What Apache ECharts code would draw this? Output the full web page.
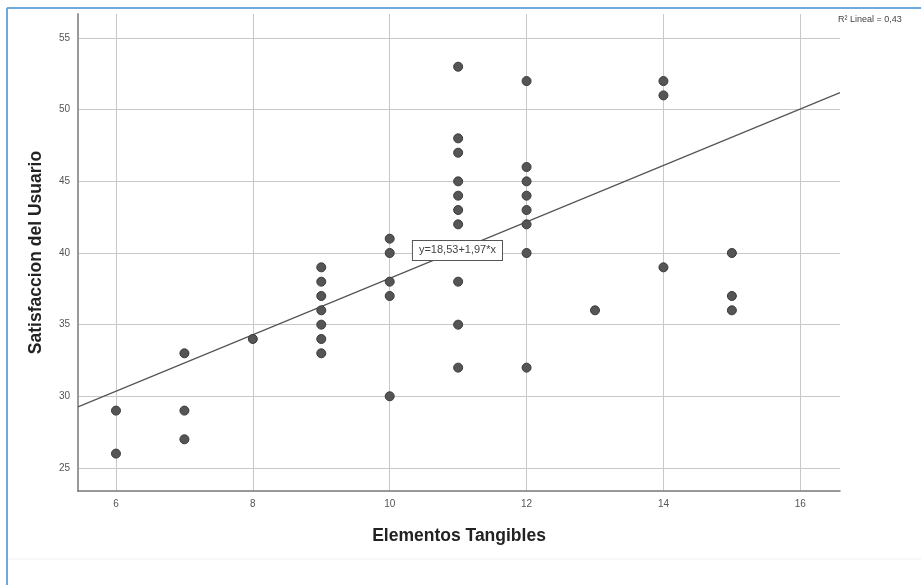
<!DOCTYPE html>
<html>
<head>
<meta charset="utf-8">
<script src="https://cdn.jsdelivr.net/npm/echarts@6/dist/echarts.min.js"></script>
<style>html,body{margin:0;padding:0;background:#fff;}#c{width:921px;height:585px;}</style>
</head>
<body>
<div id="c"></div>
<script>
// Data
const elementos =    [6, 6, 7, 7, 7, 8, 9, 9, 9, 9, 9, 9, 9, 10, 10, 10, 10, 10, 11, 11, 11, 11, 11, 11, 11, 11, 11, 11, 12, 12, 12, 12, 12, 12, 12, 12, 13, 14, 14, 14, 15, 15, 15];
const satisfaccion = [29, 26, 33, 29, 27, 34, 39, 38, 37, 36, 35, 34, 33, 41, 40, 38, 37, 30, 53, 48, 47, 45, 44, 43, 42, 38, 35, 32, 52, 46, 45, 44, 43, 42, 40, 32, 36, 52, 51, 39, 40, 37, 36];
const xTicks = [6, 8, 10, 12, 14, 16];
const yTicks = [25, 30, 35, 40, 45, 50, 55];
const fitX = [5.445, 16.58];
const fitY = [29.26, 51.19];
const fitLabel = 'y=18,53+1,97*x';
const r2Label = 'R² Lineal = 0,43';
const xTitle = 'Elementos Tangibles';
const yTitle = 'Satisfaccion del Usuario';

const points = elementos.map((x, i) => [x, satisfaccion[i]]);
const fitData = fitX.map((x, i) => [x, fitY[i]]);

const chart = echarts.init(document.getElementById('c'), null, {renderer: 'canvas'});
const FONT = 'Liberation Sans, Arial, sans-serif';
chart.setOption({
  animation: false,
  backgroundColor: '#ffffff',
  grid: {left: 78, top: 14, right: 81, bottom: 94, containLabel: false},
  xAxis: {
    type: 'value', min: 5.445, max: 16.58,
    name: xTitle, nameLocation: 'middle', nameGap: 36,
    nameTextStyle: {fontFamily: FONT, fontSize: 17.5, fontWeight: 'bold', color: '#222'},
    axisLine: {show: true, onZero: false, lineStyle: {color: '#777', width: 1.5}},
    axisTick: {show: false, customValues: xTicks},
    axisLabel: {customValues: xTicks, fontFamily: FONT, fontSize: 10, color: '#555', margin: 8},
    splitLine: {show: true, lineStyle: {color: '#c8c8c8', width: 1}}
  },
  yAxis: {
    type: 'value', min: 23.39, max: 56.68,
    name: yTitle, nameLocation: 'middle', nameGap: 33,
    nameTextStyle: {fontFamily: FONT, fontSize: 17.5, fontWeight: 'bold', color: '#222'},
    axisLine: {show: true, onZero: false, lineStyle: {color: '#999', width: 2}},
    axisTick: {show: false, customValues: yTicks},
    axisLabel: {customValues: yTicks, fontFamily: FONT, fontSize: 10, color: '#555', margin: 8},
    splitLine: {show: true, lineStyle: {color: '#c8c8c8', width: 1}}
  },
  series: [
    {
      type: 'line', data: fitData, symbol: 'none', silent: true,
      lineStyle: {color: '#555', width: 1.2},
      markPoint: {
        symbol: 'rect', symbolSize: 1, itemStyle: {color: 'rgba(0,0,0,0)'},
        label: {
          show: true, position: 'inside', formatter: fitLabel,
          fontFamily: FONT, fontSize: 11, color: '#444',
          backgroundColor: '#fff', borderColor: '#555', borderWidth: 1,
          padding: [4, 6, 4, 6]
        },
        data: [{coord: [10.99, 40.18]}]
      },
      z: 2
    },
    {
      type: 'scatter', data: points, symbol: 'circle', symbolSize: 9,
      itemStyle: {color: '#555', borderColor: '#3a3a3a', borderWidth: 1, opacity: 1},
      z: 3
    }
  ],
  graphic: [
    {type: 'line', shape: {x1: 7, y1: 8, x2: 921, y2: 8}, style: {stroke: '#6fa8dc', lineWidth: 2}},
    {type: 'line', shape: {x1: 7, y1: 8, x2: 7, y2: 585}, style: {stroke: '#6fa8dc', lineWidth: 2}},
    {type: 'line', shape: {x1: 8, y1: 559, x2: 921, y2: 559}, style: {stroke: '#efefef', lineWidth: 1}},
    {type: 'text', left: 838, top: 15, style: {text: r2Label, font: '9px ' + FONT, fill: '#444'}}
  ]
});
</script>
</body>
</html>
